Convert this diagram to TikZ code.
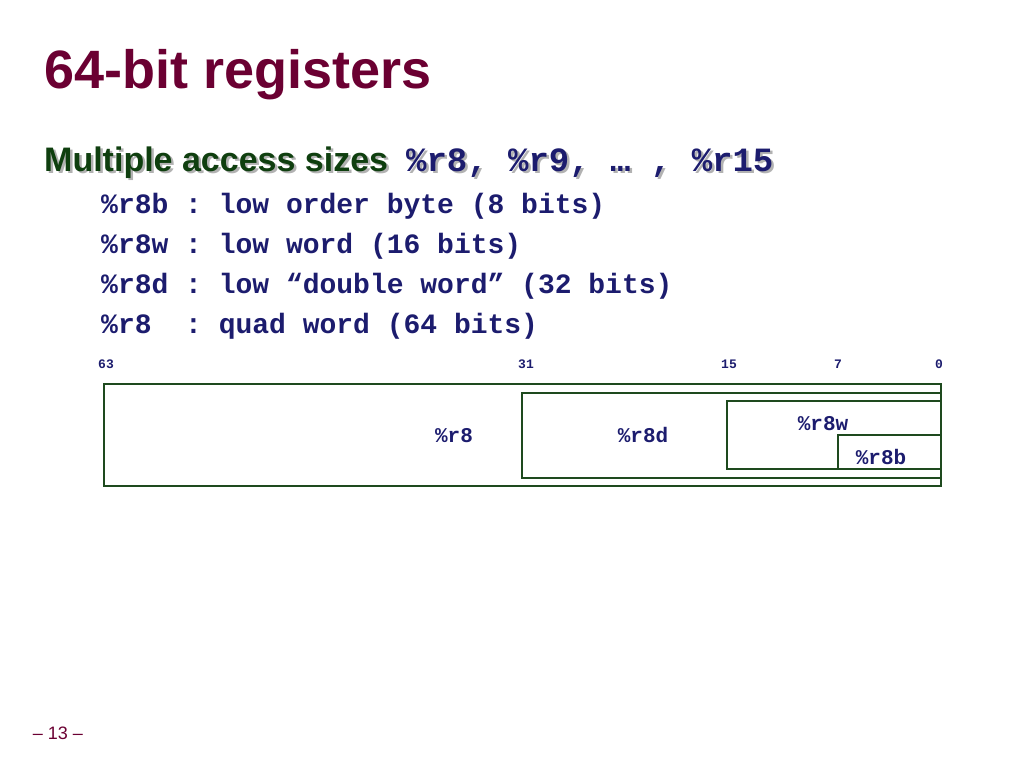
\documentclass[tikz,border=0pt]{standalone}
\usepackage{fontspec}
\setmainfont{Liberation Sans}
\setmonofont{Liberation Mono}
\definecolor{maroon}{HTML}{6B0032}
\definecolor{hgreen}{HTML}{0F3F0F}
\definecolor{navy}{HTML}{1C1C6E}
\definecolor{boxg}{HTML}{1E4A1E}
\begin{document}
\begin{tikzpicture}[x=1pt,y=-1pt,
  lst/.style={anchor=base west,inner sep=0,text=navy,font=\fontsize{28}{28}\selectfont\ttfamily\bfseries},
  bitn/.style={anchor=base,inner sep=0,text=navy,font=\fontsize{13}{13}\selectfont\ttfamily\bfseries},
  lab/.style={anchor=base,inner sep=0,text=navy,font=\fontsize{21}{21}\selectfont\ttfamily\bfseries},
  reg/.style={draw=boxg,line width=1.6pt}]
\useasboundingbox (0,0) rectangle (1024,768);
\node[anchor=base west,inner sep=0,text=maroon,font=\fontsize{54}{54}\selectfont\bfseries] (title) at (44,88) {64-bit registers};
\node[anchor=base west,inner sep=0,text=gray!60,font=\fontsize{34}{34}\selectfont\bfseries] (hs) at (46.5,173.5) {Multiple access sizes\hspace{18pt}\texttt{\%r8, \%r9, … , \%r15}};
\node[anchor=base west,inner sep=0,text=hgreen,font=\fontsize{34}{34}\selectfont\bfseries] (h) at (44,171) {Multiple access sizes\hspace{18pt}\texttt{\textcolor{navy}{\%r8, \%r9, … , \%r15}}};
\node[lst] (l1) at (101,213) {\%r8b : low order byte (8 bits)};
\node[lst] (l2) at (101,253) {\%r8w : low word (16 bits)};
\node[lst] (l3) at (101,293) {\%r8d : low “double word” (32 bits)};
\node[lst] (l4) at (101,333) {\%r8\hphantom{b} : quad word (64 bits)};
\node[bitn] (b63) at (106,368) {63};
\node[bitn] (b31) at (526,368) {31};
\node[bitn] (b15) at (729,368) {15};
\node[bitn] (b7) at (838,368) {7};
\node[bitn] (b0) at (939,368) {0};
\draw[reg] (104,384) rectangle (941,486);
\draw[reg] (522,393) rectangle (941,478);
\draw[reg] (727,401) rectangle (941,469);
\draw[reg] (838,435) rectangle (941,469);
\node[lab] (r8) at (454,442) {\%r8};
\node[lab] (r8d) at (643,442) {\%r8d};
\node[lab] (r8w) at (823,430) {\%r8w};
\node[lab] (r8b) at (881,464) {\%r8b};
\node[anchor=base,inner sep=0,text=maroon,font=\fontsize{18}{18}\selectfont] (pg) at (58,739) {– 13 –};
\end{tikzpicture}
\end{document}
